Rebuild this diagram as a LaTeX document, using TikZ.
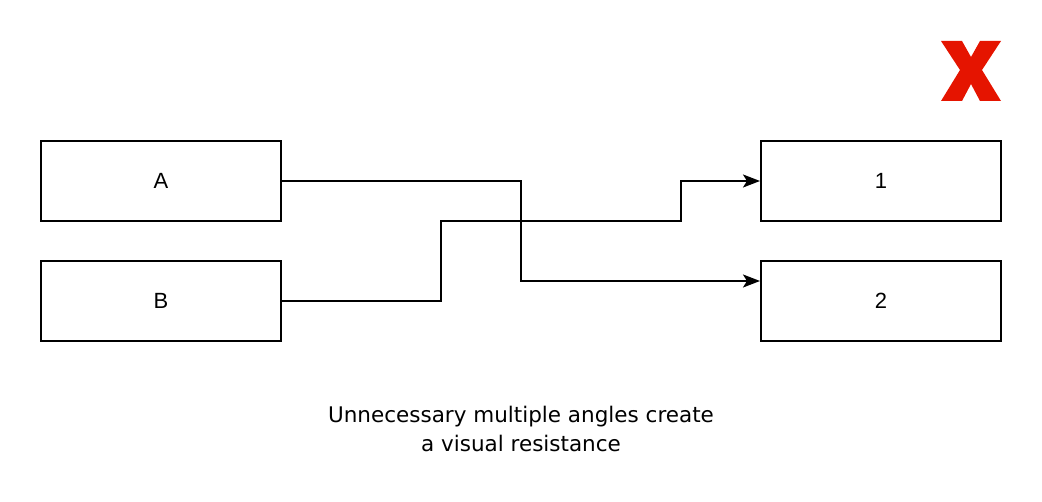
\documentclass[tikz,border=0pt]{standalone}
\usepackage{fontspec}
\setmainfont{Liberation Sans}
\newfontfamily\capfont{DejaVu Sans}
\usetikzlibrary{arrows.meta}
\definecolor{xred}{HTML}{E51400}
\tikzset{
  box/.style={draw=black, line width=2pt, minimum width=240pt, minimum height=80pt, inner sep=0pt, font=\fontsize{22}{25}\selectfont},
  conn/.style={draw=black, line width=2pt, -{Stealth[length=17pt, width=13pt, inset=4pt]}},
  captext/.style={align=center, font=\capfont\fontsize{21.5}{29}\selectfont}
}
\begin{document}
\begin{tikzpicture}[x=1pt, y=-1pt]
\useasboundingbox (0,0) rectangle (1042,502);
\node[box] (A) at (161,181) {A};
\node[box] (B) at (161,301) {B};
\node[box] (one) at (881,181) {1};
\node[box] (two) at (881,301) {2};
\draw[conn] (A.east) -- (521,181) -- (521,281) -- (two.west |- 0,281);
\draw[conn] (B.east) -- (441,301) -- (441,221) -- (681,221) -- (681,181) -- (one.west);
\fill[xred] (941,41) -- (962,41) -- (971,57) -- (980,41) -- (1001,41) -- (982,70) -- (1001,101) -- (980,101) -- (971,84) -- (962,101) -- (941,101) -- (960,70) -- cycle;
\node[captext] (caption) at (521,429) {Unnecessary multiple angles create\\a visual resistance};
\end{tikzpicture}
\end{document}
